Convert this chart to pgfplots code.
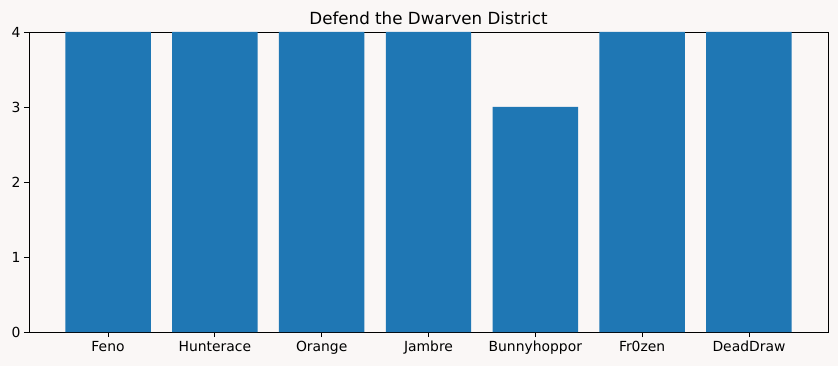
\documentclass[border=0pt]{standalone}
\usepackage{pgfplots}
\pgfplotsset{compat=1.18}
\usepackage{fontspec}
\setmainfont{DejaVu Sans}
\definecolor{bg}{HTML}{FAF7F6}
\definecolor{barblue}{HTML}{1F77B4}
\begin{document}
\begin{tikzpicture}
\fill[bg] (-29bp,-34bp) rectangle (809bp,332bp);
\begin{axis}[
  at={(0,0)}, anchor=south west,
  scale only axis, width=799bp, height=300bp,
  xmin=-0.74, xmax=6.74, ymin=0, ymax=4,
  axis background/.style={fill=bg},
  xtick={0,...,6},
  xticklabels={Feno,Hunterace,Orange,Jambre,Bunnyhoppor,Fr0zen,DeadDraw},
  ytick={0,1,2,3,4},
  tick align=outside, tick pos=left,
  major tick length=5bp,
  tick style={black, line width=0.8bp},
  axis line style={line width=0.8bp},
  ticklabel style={font=\fontsize{13.9bp}{16bp}\selectfont},
  xticklabel style={text height=10.5bp, text depth=3bp},
  /pgf/number format/assume math mode=true,
  title={Defend the Dwarven District},
  title style={font=\fontsize{16.7bp}{19bp}\selectfont, yshift=-2bp},
  clip=true,
]
\addplot[ybar, bar width=0.8, fill=barblue, draw=none, bar shift=0pt] coordinates {
(0,4) (1,4) (2,4) (3,4) (4,3) (5,4) (6,4)};
\end{axis}
\end{tikzpicture}
\end{document}
